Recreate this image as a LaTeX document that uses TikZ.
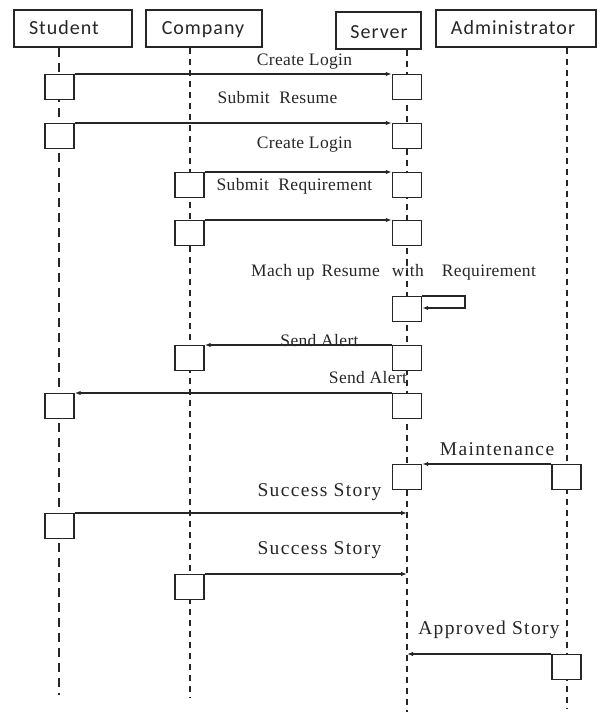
\documentclass[tikz,border=0pt]{standalone}
\usepackage{fontspec}
\setmainfont{Liberation Serif}
\newfontfamily\hdrfont[LetterSpace=5]{Carlito}
\newfontfamily\lblfont[LetterSpace=2]{Liberation Serif}
\newfontfamily\biglblfont[LetterSpace=7]{Liberation Serif}
\usetikzlibrary{arrows.meta}
\definecolor{ink}{HTML}{262626}
\definecolor{txt}{HTML}{262626}
\begin{document}
\begin{tikzpicture}[x=1pt,y=-1pt,
  hdrbox/.style={draw=ink,line width=1.4pt,inner sep=0pt,minimum height=37pt},
  hdrtext/.style={font=\hdrfont\fontsize{20}{24}\selectfont,text=txt,inner sep=0pt,anchor=base},
  actbox/.style={draw=ink,fill=white,line width=1.4pt,inner sep=0pt,minimum width=29pt,minimum height=25pt,anchor=north},
  thinlife/.style={draw=ink,line width=1.2pt,dash pattern=on 9pt off 6pt},
  thicklife/.style={draw=ink,line width=2pt,dash pattern=on 6pt off 5pt},
  msg/.style={draw=ink,line width=1.2pt,-{Latex[length=6pt,width=4.5pt]}},
  lbl/.style={font=\lblfont\fontsize{17.5}{20}\selectfont,text=txt,inner sep=0pt,anchor=base},
  biglbl/.style={font=\biglblfont\fontsize{19.5}{22}\selectfont,text=txt,inner sep=0pt,anchor=base}]
\useasboundingbox (0,0) rectangle (600,717);
% header boxes
\node[hdrbox,minimum width=118pt] (student) at (73,28.5) {};
\node[hdrbox,minimum width=116pt] (company) at (204,28.5) {};
\node[hdrbox,minimum width=85pt] (server) at (378.5,30.5) {};
\node[hdrbox,minimum width=160pt] (admin) at (516,28.5) {};
\node[hdrtext] (studentlbl) at (64,35) {Student};
\node[hdrtext] (companylbl) at (203,35) {Company};
\node[hdrtext] (serverlbl) at (379,38) {Server};
\node[hdrtext] (adminlbl) at (513,35) {Administrator};
% lifeline ends
\coordinate (sbot) at (59,695);
\coordinate (cbot) at (189.5,697);
\coordinate (vbot) at (407,712);
\coordinate (abot) at (566.5,708);
\draw[thinlife] (student.south -| sbot) -- (sbot);
\draw[thicklife] (company.south -| cbot) -- (cbot);
\draw[thicklife] (server.south -| vbot) -- (vbot);
\draw[thicklife] (admin.south -| abot) -- (abot);
% activation boxes
\node[actbox] (s1) at (59.5,74) {};
\node[actbox] (v1) at (407,74) {};
\node[actbox] (s2) at (59.5,123) {};
\node[actbox] (v2) at (407,123) {};
\node[actbox] (c3) at (189.5,172) {};
\node[actbox] (v3) at (407,172) {};
\node[actbox] (c4) at (189.5,220) {};
\node[actbox] (v4) at (407,220) {};
\node[actbox] (v5) at (407,296) {};
\node[actbox] (c6) at (189.5,345) {};
\node[actbox] (v6) at (407,345) {};
\node[actbox] (s7) at (59.5,393) {};
\node[actbox] (v7) at (407,393) {};
\node[actbox] (v8) at (407,464) {};
\node[actbox] (a8) at (566.5,464) {};
\node[actbox] (s9) at (59.5,513) {};
\node[actbox] (c10) at (189.5,574) {};
\node[actbox] (a11) at (566.5,654) {};
% free ends on server lifeline
\coordinate (e9) at (407,513);
\coordinate (e10) at (407,574);
\coordinate (e11) at (407,654);
\coordinate (loopa) at (465,296);
\coordinate (loopb) at (465,308);
% messages
\draw[msg] (s1.north east) -- (v1.north west);
\draw[msg] (s2.north east) -- (v2.north west);
\draw[msg] (c3.north east) -- (v3.north west);
\draw[msg] (c4.north east) -- (v4.north west);
\draw[msg] (v5.north east) -- (loopa) -- (loopb) -- (loopb -| v5.east);
\draw[msg] (v6.north west) -- (c6.north east);
\draw[msg] (v7.north west) -- (s7.north east);
\draw[msg] (a8.north west) -- (v8.north east);
\draw[msg] (s9.north east) -- (e9);
\draw[msg] (c10.north east) -- (e10);
\draw[msg] (a11.north west) -- (e11);
% labels
\node[lbl] (l1) at (304.5,66) {Create Login};
\node[lbl] (l2) at (277.5,103) {Submit\ \ Resume};
\node[lbl] (l3) at (304.5,148) {Create Login};
\node[lbl] (l4) at (294.5,190) {Submit\ \ Requirement};
\node[lbl,anchor=base west] (l5) at (251,276) {Mach up\hspace{7pt}Resume\hspace{12pt}with\hspace{18pt}Requirement};
\node[lbl] (l6) at (319.5,346) {Send Alert};
\node[lbl] (l7) at (368,383) {Send Alert};
\node[biglbl] (l8) at (497,455.5) {Maintenance};
\node[biglbl] (l9) at (319.5,496.5) {Success Story};
\node[biglbl] (l10) at (319.5,554.5) {Success Story};
\node[biglbl] (l11) at (489,634.5) {Approved Story};
\end{tikzpicture}
\end{document}
